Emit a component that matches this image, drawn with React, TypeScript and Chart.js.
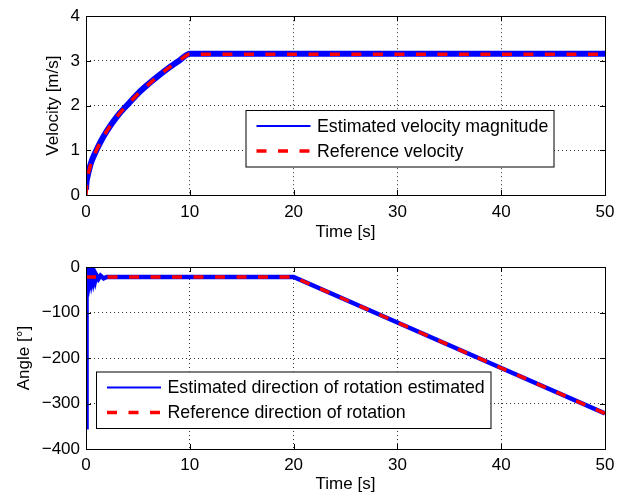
import React, { useEffect, useRef } from 'react';
import { Chart, registerables } from 'chart.js';
Chart.register(...registerables);

// ---- data ----
const velRefTime = [0, 0.1, 0.25, 0.5, 1, 1.5, 2, 3, 4, 5, 6, 7, 8, 9, 10, 50];
const velRefValues = [0, 0.32, 0.5, 0.72, 1.0, 1.23, 1.43, 1.76, 2.02, 2.26, 2.47, 2.67, 2.85, 3.01, 3.15, 3.15];
const velEstTime = [0, 0.05, 0.1, 0.25, 0.5, 1, 1.5, 2, 3, 4, 5, 6, 7, 8, 9, 10, 50];
const velEstValues = [0.12, 0.3, 0.36, 0.52, 0.73, 1.0, 1.23, 1.43, 1.76, 2.02, 2.27, 2.48, 2.67, 2.85, 3.01, 3.16, 3.16];

const angRefTime = [0, 20, 50];
const angRefValues = [-22, -22, -322];
const angEstTime = [0, 0.05, 0.1, 0.2, 0.3, 0.4, 0.5, 0.6, 0.7, 0.8, 0.9, 1.0, 1.2, 1.4, 1.7, 2.0, 20, 30, 40, 50];
const angEstValues = [-352, -4, -32, -14, -31, -15, -30, -16, -29, -17, -28, -18, -26, -19, -25, -22, -22, -122, -222, -322];

const xTicksMax = 50;
const velLegend = ['Estimated velocity magnitude', 'Reference velocity'];
const angLegend = ['Estimated direction of rotation estimated', 'Reference direction of rotation'];
const velAxisTitle = 'Velocity [m/s]';
const angAxisTitle = 'Angle [°]';
const timeAxisTitle = 'Time [s]';

const FONT = "'Liberation Sans', Arial, Helvetica, sans-serif";
const BLUE = '#0000ff';
const RED = '#ff0000';

function toXY(xs: number[], ys: number[]) {
  return xs.map((x, i) => ({ x, y: ys[i] }));
}

function makePlugin(legend: { x: number; y: number; w: number; h: number; labels: string[] }) {
  return {
    id: 'matlabFrame',
    afterDraw(chart: any) {
      const ctx = chart.ctx as CanvasRenderingContext2D;
      const a = chart.chartArea;
      const xs = chart.scales.x;
      const ys = chart.scales.y;
      ctx.save();
      ctx.strokeStyle = '#000';
      ctx.lineWidth = 1;
      ctx.setLineDash([]);
      // box
      ctx.strokeRect(Math.round(a.left) + 0.5, Math.round(a.top) + 0.5, Math.round(a.right - a.left), Math.round(a.bottom - a.top));
      // inward ticks
      ctx.beginPath();
      xs.ticks.forEach((t: any) => {
        const px = Math.round(xs.getPixelForValue(t.value)) + 0.5;
        ctx.moveTo(px, a.bottom);
        ctx.lineTo(px, a.bottom - 5);
        ctx.moveTo(px, a.top);
        ctx.lineTo(px, a.top + 5);
      });
      ys.ticks.forEach((t: any) => {
        const py = Math.round(ys.getPixelForValue(t.value)) + 0.5;
        ctx.moveTo(a.left, py);
        ctx.lineTo(a.left + 5, py);
        ctx.moveTo(a.right, py);
        ctx.lineTo(a.right - 5, py);
      });
      ctx.stroke();
      // legend
      const { x, y, w, h, labels } = legend;
      ctx.fillStyle = '#fff';
      ctx.fillRect(x, y, w, h);
      ctx.strokeRect(x + 0.5, y + 0.5, w, h);
      const rows = [y + 16, y + 41];
      ctx.font = `17.8px ${FONT}`;
      ctx.textBaseline = 'middle';
      ctx.textAlign = 'left';
      // blue solid
      ctx.strokeStyle = BLUE;
      ctx.lineWidth = 2;
      ctx.beginPath();
      ctx.moveTo(x + 11, rows[0]);
      ctx.lineTo(x + 65, rows[0]);
      ctx.stroke();
      // red dashed
      ctx.strokeStyle = RED;
      ctx.lineWidth = 3.5;
      ctx.setLineDash([10, 11.5]);
      ctx.beginPath();
      ctx.moveTo(x + 11, rows[1]);
      ctx.lineTo(x + 65, rows[1]);
      ctx.stroke();
      ctx.setLineDash([]);
      ctx.fillStyle = '#000';
      ctx.fillText(labels[0], x + 71.5, rows[0] + 1);
      ctx.fillText(labels[1], x + 71.5, rows[1] + 1);
      ctx.restore();
    },
  };
}

function baseOptions(opts: {
  yMin: number; yMax: number; yStep: number; yTitle: string; yTitlePad: number;
  padTop: number; xHeight: number; xTickPad: number; xTitlePad: number;
}) {
  const font = { family: FONT, size: 17 };
  return {
    responsive: false,
    animation: false as const,
    events: [] as any[],
    layout: { padding: { top: opts.padTop, right: 18, left: 0, bottom: 0 } },
    plugins: { legend: { display: false }, tooltip: { enabled: false }, title: { display: false } },
    scales: {
      x: {
        type: 'linear' as const,
        min: 0,
        max: xTicksMax,
        ticks: { stepSize: 10, color: '#000', font, padding: opts.xTickPad, maxRotation: 0 },
        grid: { color: 'rgba(0,0,0,0.8)', lineWidth: 1, drawTicks: false },
        border: { display: false, dash: [1, 3] },
        title: { display: true, text: timeAxisTitle, color: '#000', font, padding: { top: 0, bottom: opts.xTitlePad } },
        afterFit: (s: any) => { s.height = opts.xHeight; },
      },
      y: {
        type: 'linear' as const,
        min: opts.yMin,
        max: opts.yMax,
        ticks: {
          stepSize: opts.yStep, color: '#000', font, padding: 6,
          callback: (v: any) => String(v).replace('-', '\u2212'),
        },
        grid: { color: 'rgba(0,0,0,0.8)', lineWidth: 1, drawTicks: false },
        border: { display: false, dash: [1, 3] },
        title: { display: true, text: opts.yTitle, color: '#000', font, padding: { top: opts.yTitlePad, bottom: 0 } },
        afterFit: (s: any) => { s.width = 86; },
      },
    },
  };
}

function VelocityChart() {
  const ref = useRef<HTMLCanvasElement>(null);
  useEffect(() => {
    const chart = new Chart(ref.current!, {
      type: 'line',
      data: {
        datasets: [
          {
            label: velLegend[1],
            data: toXY(velRefTime, velRefValues),
            borderColor: RED, borderWidth: 3.5, borderDash: [10, 11.5],
            pointRadius: 0, cubicInterpolationMode: 'monotone', fill: false, order: 1,
          },
          {
            label: velLegend[0],
            data: toXY(velEstTime, velEstValues),
            borderColor: BLUE, borderWidth: 6,
            pointRadius: 0, cubicInterpolationMode: 'monotone', fill: false, order: 2,
          },
        ],
      },
      options: baseOptions({ yMin: 0, yMax: 4, yStep: 1, yTitle: velAxisTitle, yTitlePad: 43, padTop: 14, xHeight: 52, xTickPad: 7, xTitlePad: 4 }) as any,
      plugins: [makePlugin({ x: 245.5, y: 110, w: 308, h: 56.5, labels: velLegend })],
    });
    return () => chart.destroy();
  }, []);
  return <canvas ref={ref} width={623} height={247} style={{ display: 'block' }} />;
}

function AngleChart() {
  const ref = useRef<HTMLCanvasElement>(null);
  useEffect(() => {
    const chart = new Chart(ref.current!, {
      type: 'line',
      data: {
        datasets: [
          {
            label: angLegend[1],
            data: toXY(angRefTime, angRefValues),
            borderColor: RED, borderWidth: 3.5, borderDash: [10, 11.5],
            pointRadius: 0, tension: 0, fill: false, order: 1,
          },
          {
            label: angLegend[0],
            data: toXY(angEstTime, angEstValues),
            borderColor: BLUE, borderWidth: 4.5,
            pointRadius: 0, tension: 0, fill: false, order: 2,
          },
        ],
      },
      options: baseOptions({ yMin: -400, yMax: 0, yStep: 100, yTitle: angAxisTitle, yTitlePad: 14, padTop: 20, xHeight: 48, xTickPad: 6, xTitlePad: 2 }) as any,
      plugins: [makePlugin({ x: 96, y: 124.5, w: 394.5, h: 56.5, labels: angLegend })],
    });
    return () => chart.destroy();
  }, []);
  return <canvas ref={ref} width={623} height={250} style={{ display: 'block' }} />;
}

export default function App() {
  return (
    <div style={{ position: 'fixed', left: 0, top: 0, width: 623, height: 494, overflow: 'hidden', background: '#fff' }}>
      <div style={{ position: 'absolute', left: 0, top: 0 }}>
        <VelocityChart />
      </div>
      <div style={{ position: 'absolute', left: 0, top: 247 }}>
        <AngleChart />
      </div>
    </div>
  );
}
